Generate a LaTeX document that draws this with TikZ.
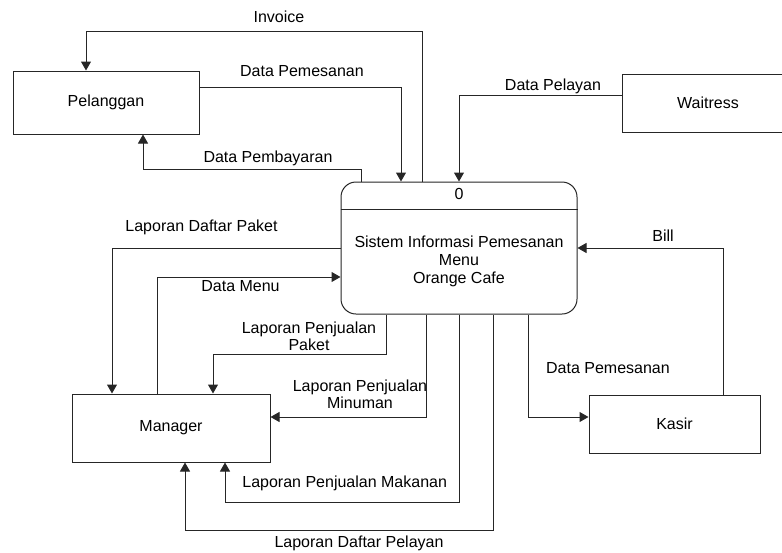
\documentclass[tikz,border=0pt]{standalone}
\usepackage{fontspec}
\setmainfont{Liberation Sans}
\usetikzlibrary{arrows.meta}
\begin{document}
\begin{tikzpicture}[x=1pt,y=-1pt,
  every node/.style={font=\fontsize{16}{18}\selectfont},
  entity/.style={draw=black!85, line width=1pt, inner sep=0},
  flow/.style={draw=black!85, line width=1pt, -{Triangle[length=9pt,width=10pt]}},
  lbl/.style={inner sep=0, text height=11.5pt, text depth=0pt},
  mlbl/.style={inner sep=0, align=center, font=\fontsize{16}{17}\selectfont}]
\useasboundingbox (0,0) rectangle (782,552);
\clip (0,0) rectangle (782,552);
\fill[white] (0,0) rectangle (782,552);

% entities
\node[entity, minimum width=186pt, minimum height=63pt] (pel) at (106,102.5) {Pelanggan};
\node[entity, minimum width=172pt, minimum height=58pt] (wai) at (708,103) {Waitress};
\node[entity, minimum width=198pt, minimum height=68pt] (man) at (171,428) {Manager};
\node[entity, minimum width=171pt, minimum height=58pt] (kas) at (674.5,424) {Kasir};

% process
\node[entity, rounded corners=15pt, minimum width=236pt, minimum height=132pt] (proc) at (459,248) {};
\draw[black!85, line width=1pt] (proc.west |- 0,209) -- (proc.east |- 0,209);
\node[lbl] (pnum) at (459,194) {0};
\node[inner sep=0, align=center] (ptext) at (459,261) {Sistem Informasi Pemesanan\\Menu\\Orange Cafe};

% flows
\draw[flow] (proc.north -| 422,0) |- (86,31) -- (pel.north -| 86,0);
\draw[flow] (pel.east |- 0,87) -| (proc.north -| 401,0);
\draw[flow] (proc.north -| 361,0) |- (143,169) -- (pel.south -| 143,0);
\draw[flow] (wai.west |- 0,95) -| (proc.north -| 459,0);
\draw[flow] (kas.north -| 723,0) |- (proc.east |- 0,248);
\draw[flow] (proc.south -| 528,0) |- (kas.west |- 0,417);
\draw[flow] (proc.west |- 0,248) -| (man.north -| 112,0);
\draw[flow] (man.north -| 157,0) |- (proc.west |- 0,277);
\draw[flow] (proc.south -| 386,0) |- (213,354) -- (man.north -| 213,0);
\draw[flow] (proc.south -| 426,0) |- (man.east |- 0,417);
\draw[flow] (proc.south -| 459,0) |- (225,502) -- (man.south -| 225,0);
\draw[flow] (proc.south -| 493,0) |- (185,530) -- (man.south -| 185,0);

% labels
\node[lbl] (l1) at (279,17) {Invoice};
\node[lbl] (l2) at (302,71) {Data Pemesanan};
\node[lbl] (l3) at (268,157) {Data Pembayaran};
\node[lbl] (l4) at (553,85) {Data Pelayan};
\node[lbl] (l5) at (663,236) {Bill};
\node[lbl] (l6) at (608,368) {Data Pemesanan};
\node[lbl] (l7) at (201.5,226) {Laporan Daftar Paket};
\node[lbl] (l8) at (240.5,286) {Data Menu};
\node[mlbl] (l9) at (309,336) {Laporan Penjualan\\Paket};
\node[mlbl] (l10) at (360,394) {Laporan Penjualan\\Minuman};
\node[lbl] (l11) at (344.7,481.7) {Laporan Penjualan Makanan};
\node[lbl] (l12) at (359,541.7) {Laporan Daftar Pelayan};
\end{tikzpicture}
\end{document}
